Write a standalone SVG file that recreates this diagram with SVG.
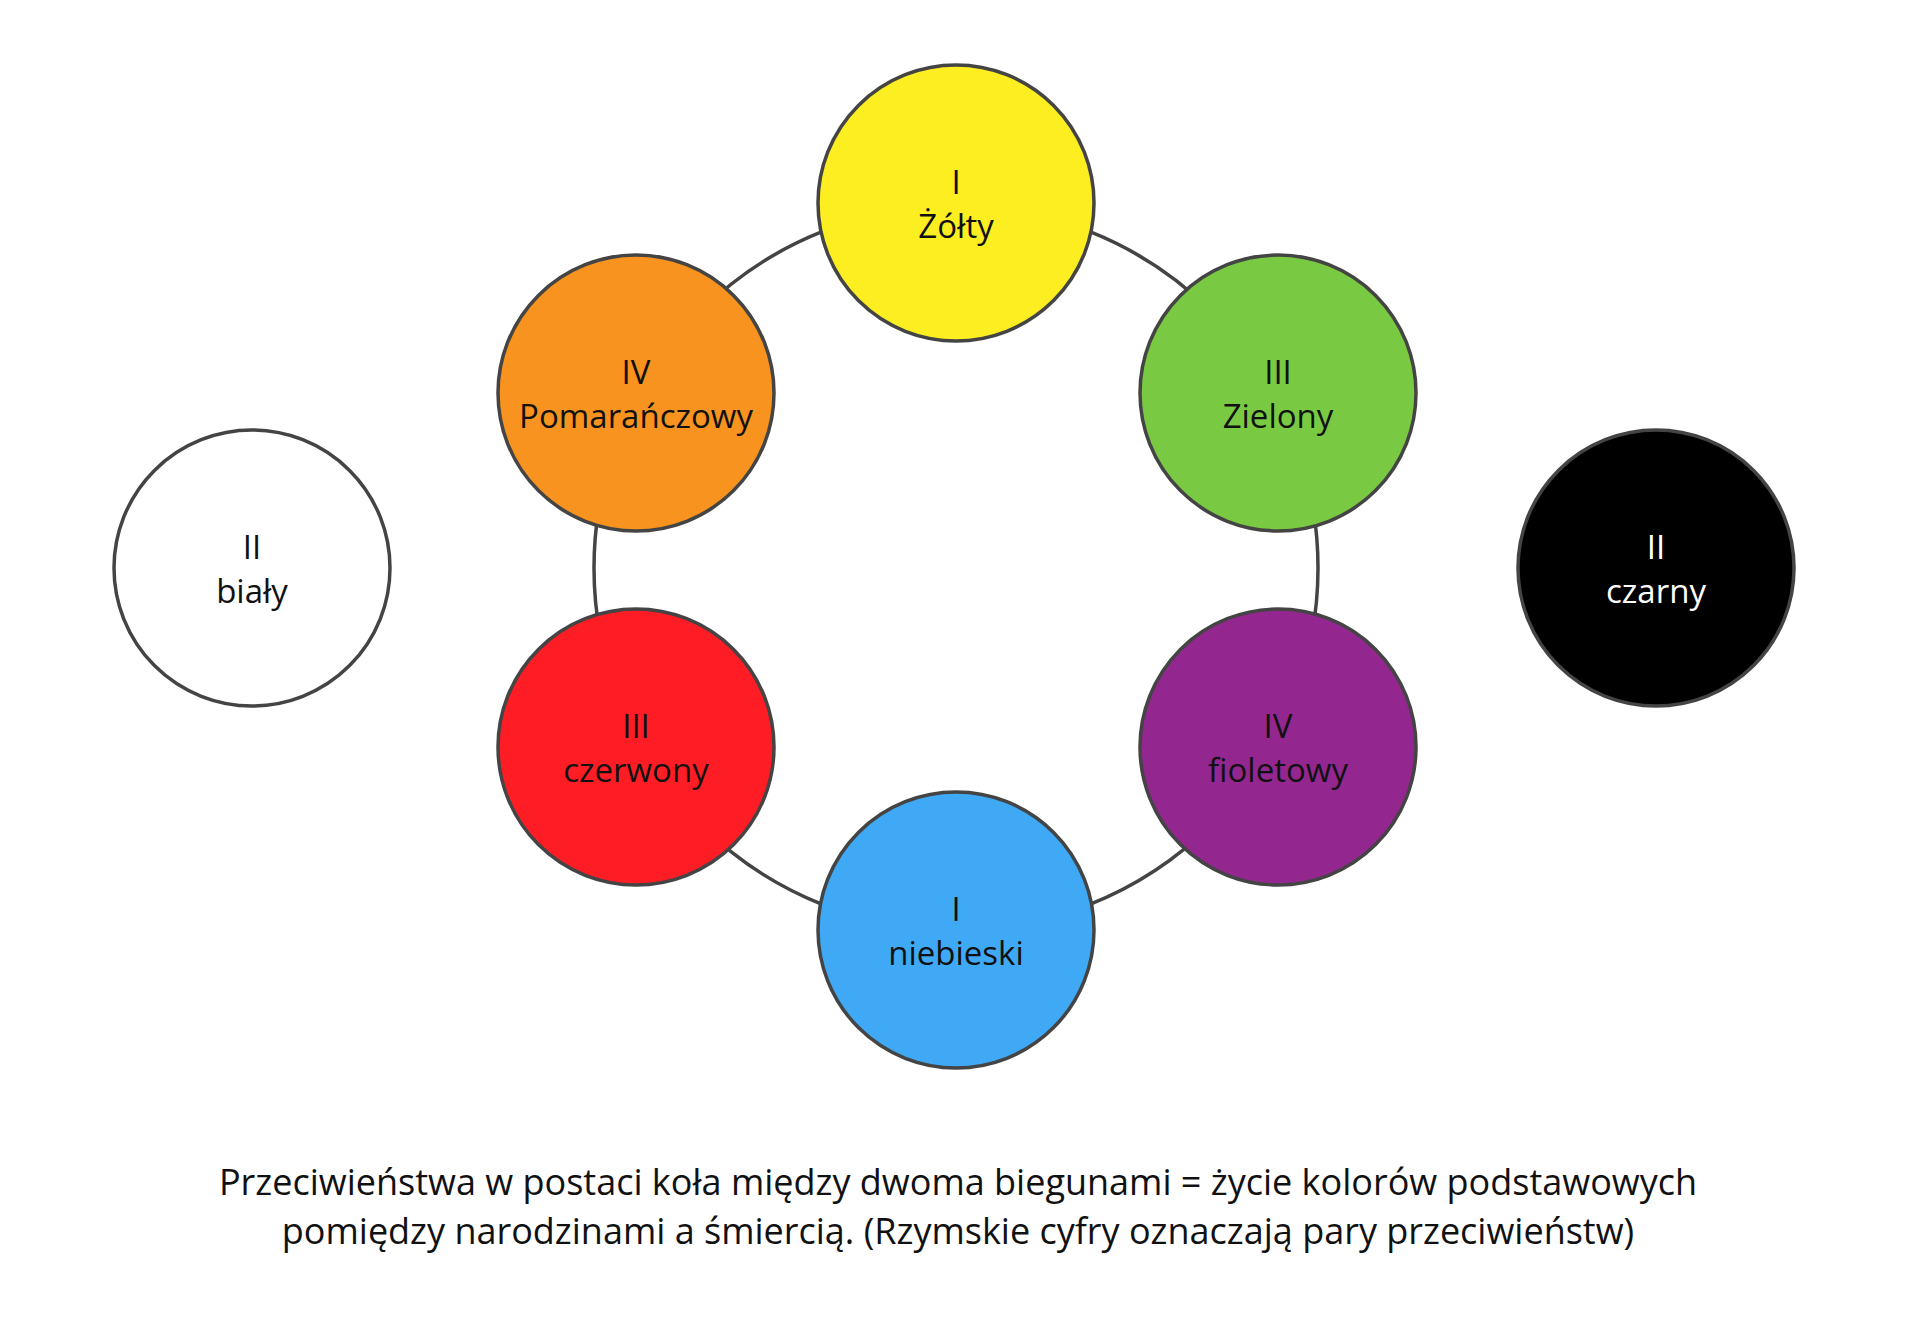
<svg xmlns="http://www.w3.org/2000/svg" width="1920" height="1333" viewBox="0 0 1920 1333">
<style>
.n{stroke:#444;stroke-width:3.5}
.t{font-family:"Open Sans",sans-serif;font-size:33px;text-anchor:middle;fill:#111}
.c{font-family:"Open Sans",sans-serif;font-size:36px;text-anchor:middle;fill:#111}
</style>
<rect width="1920" height="1333" fill="#fff"/>
<g id="connectors"><circle cx="956" cy="568" r="362" fill="none" stroke="#444" stroke-width="3.5"/></g>
<g id="zolty"><circle class="n" cx="956" cy="203" r="138" fill="#fcee21"/><text class="t" x="956" y="194">I</text><text class="t" x="956" y="238">Żółty</text></g>
<g id="pomaranczowy"><circle class="n" cx="636" cy="393" r="138" fill="#f7931e"/><text class="t" x="636" y="384">IV</text><text class="t" x="636" y="428">Pomarańczowy</text></g>
<g id="zielony"><circle class="n" cx="1278" cy="393" r="138" fill="#7ac943"/><text class="t" x="1278" y="384">III</text><text class="t" x="1278" y="428">Zielony</text></g>
<g id="czerwony"><circle class="n" cx="636" cy="747" r="138" fill="#ff1d25"/><text class="t" x="636" y="738">III</text><text class="t" x="636" y="782">czerwony</text></g>
<g id="fioletowy"><circle class="n" cx="1278" cy="747" r="138" fill="#93278f"/><text class="t" x="1278" y="738">IV</text><text class="t" x="1278" y="782">fioletowy</text></g>
<g id="niebieski"><circle class="n" cx="956" cy="930" r="138" fill="#3fa9f5"/><text class="t" x="956" y="921">I</text><text class="t" x="956" y="965">niebieski</text></g>
<g id="bialy"><circle class="n" cx="252" cy="568" r="138" fill="#fff"/><text class="t" x="252" y="559">II</text><text class="t" x="252" y="603">biały</text></g>
<g id="czarny"><circle class="n" cx="1656" cy="568" r="138" fill="#000"/><text class="t" x="1656" y="559" fill="#fff" style="fill:#fff">II</text><text class="t" x="1656" y="603" style="fill:#fff">czarny</text></g>
<g id="caption"><text class="c" x="958" y="1195">Przeciwieństwa w postaci koła między dwoma biegunami = życie kolorów podstawowych</text><text class="c" x="958" y="1244">pomiędzy narodzinami a śmiercią. (Rzymskie cyfry oznaczają pary przeciwieństw)</text></g>
</svg>
